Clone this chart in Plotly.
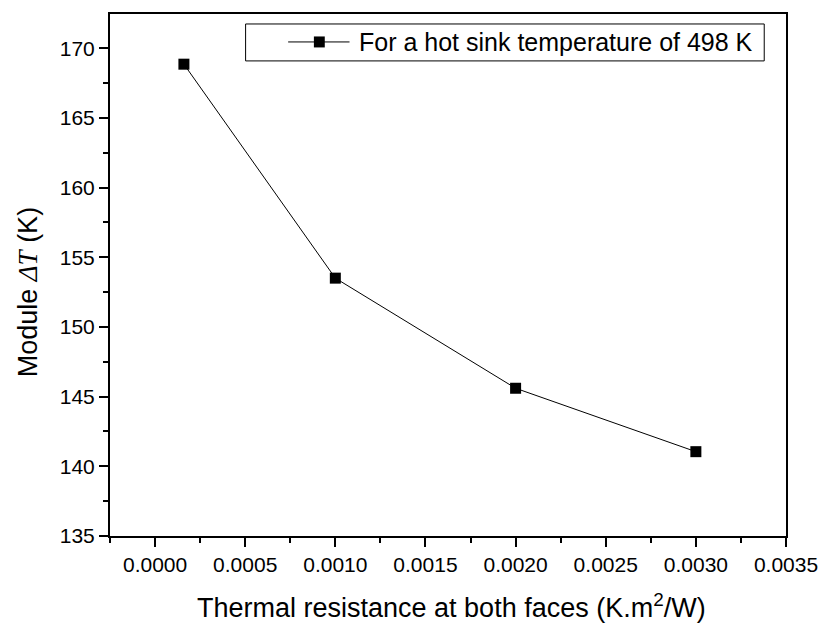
import plotly.graph_objects as go

# Thermal resistance at both faces (K.m^2/W) and resulting module temperature difference (K)
resistance = [0.00016, 0.0010, 0.0020, 0.0030]
delta_t = [168.85, 153.5, 145.6, 141.05]
series_name = "For a hot sink temperature of 498 K"
x_title = "Thermal resistance at both faces (K.m<sup>2</sup>/W)"
y_title = "Module <i><span style='font-family:Liberation Serif, serif'>ΔT</span></i> (K)"

FONT = "Arial, Liberation Sans, sans-serif"

# plot-area geometry in pixels (used to place titles and the boxed legend)
W, H = 830, 626
ML, MR, MT, MB = 110, 37, 13, 90
PW, PH = W - ML - MR, H - MT - MB


def px_x(px):
    return (px - ML) / PW


def px_y(py):
    return (H - MB - py) / PH


fig = go.Figure()
fig.add_trace(go.Scatter(
    x=resistance,
    y=delta_t,
    mode="lines+markers",
    name=series_name,
    showlegend=False,
    line=dict(color="black", width=1),
    marker=dict(symbol="square", size=11, color="black"),
))

axis_common = dict(
    showline=True,
    linecolor="black",
    linewidth=2,
    mirror=True,
    ticks="outside",
    ticklen=9,
    tickwidth=2,
    tickcolor="black",
    showgrid=False,
    zeroline=False,
    tickfont=dict(family=FONT, size=21, color="black"),
)

fig.update_xaxes(
    **axis_common,
    range=[-0.00025, 0.0035],
    tick0=0,
    dtick=0.0005,
    tickformat=".4f",
    minor=dict(ticks="outside", ticklen=5, tickwidth=2, tickcolor="black", dtick=0.00025, tick0=0),
)
fig.update_yaxes(
    **axis_common,
    range=[135, 172.45],
    tick0=135,
    dtick=5,
    minor=dict(ticks="outside", ticklen=5, tickwidth=2, tickcolor="black", dtick=2.5, tick0=135),
)

# axis titles
fig.add_annotation(xref="paper", yref="paper", x=px_x(455), y=px_y(606),
                   xanchor="center", yanchor="middle", showarrow=False,
                   text=x_title, font=dict(family=FONT, size=27, color="black"))
fig.add_annotation(xref="paper", yref="paper", x=px_x(28), y=px_y(292),
                   xanchor="center", yanchor="middle", showarrow=False, textangle=-90,
                   text=y_title, font=dict(family=FONT, size=27, color="black"))

# boxed legend: frame, line-marker-line glyph and label
leg_y = 41
fig.add_shape(type="rect", xref="paper", yref="paper",
              x0=px_x(247), x1=px_x(771), y0=px_y(60), y1=px_y(23),
              line=dict(color="black", width=1), fillcolor="white", layer="above")
fig.add_shape(type="line", xref="paper", yref="paper",
              x0=px_x(290), x1=px_x(352), y0=px_y(leg_y), y1=px_y(leg_y),
              line=dict(color="black", width=1), layer="above")
fig.add_shape(type="rect", xref="paper", yref="paper",
              x0=px_x(316), x1=px_x(327), y0=px_y(leg_y + 5.5), y1=px_y(leg_y - 5.5),
              line=dict(color="black", width=0), fillcolor="black", layer="above")
fig.add_annotation(xref="paper", yref="paper", x=px_x(360), y=px_y(leg_y),
                   xanchor="left", yanchor="middle", showarrow=False,
                   text=series_name,
                   font=dict(family=FONT, size=25, color="black"))

fig.update_layout(
    width=W,
    height=H,
    margin=dict(l=ML, r=MR, t=MT, b=MB),
    paper_bgcolor="white",
    plot_bgcolor="white",
    showlegend=False,
)

fig.write_html("out.html")
